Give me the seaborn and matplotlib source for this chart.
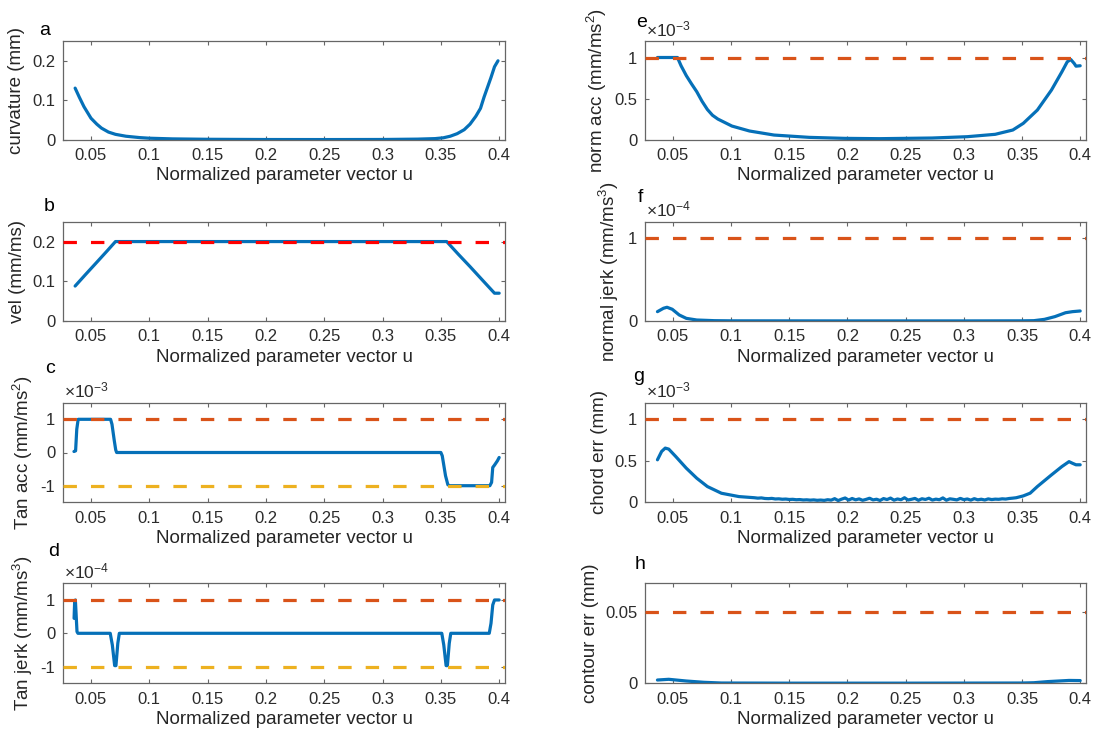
import numpy as np
import matplotlib
matplotlib.use("Agg")
import matplotlib.pyplot as plt
import matplotlib.transforms as mtransforms
from matplotlib.ticker import FuncFormatter
import seaborn as sns

# ---------------------------------------------------------------- data
# (a) curvature (mm)
u_curv = [0.0364, 0.040, 0.044, 0.050, 0.055, 0.059, 0.065, 0.071, 0.080, 0.092,
          0.100, 0.120, 0.150, 0.200, 0.250, 0.300, 0.330, 0.345, 0.352, 0.358,
          0.364, 0.370, 0.375, 0.380, 0.384, 0.387, 0.390, 0.393, 0.396, 0.399]
curvature = [0.131, 0.108, 0.084, 0.055, 0.040, 0.030, 0.020, 0.0143, 0.0095, 0.006,
             0.0045, 0.0028, 0.0018, 0.0012, 0.0011, 0.0013, 0.0022, 0.0035, 0.0055, 0.0095,
             0.016, 0.026, 0.040, 0.060, 0.080, 0.108, 0.133, 0.158, 0.185, 0.200]

# (b) feedrate (mm/ms) and its limit
u_vel = [0.0364, 0.045, 0.055, 0.064, 0.071, 0.355, 0.365, 0.375, 0.385, 0.396, 0.400]
vel = [0.088, 0.116, 0.148, 0.177, 0.200, 0.200, 0.168, 0.137, 0.105, 0.070, 0.070]
vel_max = 0.2

# (c) tangential acceleration, in units of 1e-3 mm/ms^2
u_tacc = [0.0354, 0.0368, 0.0378, 0.0390, 0.0668, 0.0680, 0.0700, 0.0712, 0.0720,
          0.3500, 0.3512, 0.3540, 0.3560, 0.3575, 0.3920, 0.3935, 0.3945, 0.3960,
          0.3985, 0.4000]
tan_acc = [0.03, 0.05, 0.70, 1.00, 1.00, 0.85, 0.35, 0.08, 0.00,
           0.00, -0.10, -0.70, -0.97, -1.00, -1.00, -0.90, -0.45, -0.38,
           -0.25, -0.15]
tan_acc_lim = [1.0, -1.0]

# (d) tangential jerk, in units of 1e-4 mm/ms^3
u_tjerk = [0.0355, 0.0360, 0.0366, 0.0372, 0.0380, 0.0388,
           0.0665, 0.0683, 0.0703, 0.0714, 0.0730, 0.0743,
           0.3508, 0.3525, 0.3545, 0.3556, 0.3572, 0.3585,
           0.3915, 0.3930, 0.3945, 0.3960, 0.4000]
tan_jerk = [0.45, 0.95, 1.00, 0.60, 0.05, 0.00,
            0.00, -0.35, -0.97, -0.97, -0.30, 0.00,
            0.00, -0.35, -0.97, -0.97, -0.30, 0.00,
            0.00, 0.30, 0.85, 1.00, 1.00]
tan_jerk_lim = [1.0, -1.0]

# (e) normal acceleration, in units of 1e-3 mm/ms^2
u_nacc = [0.0367, 0.0450, 0.0539, 0.0570, 0.0615, 0.0660, 0.0705, 0.0750, 0.0796,
          0.0840, 0.0886, 0.1007, 0.1158, 0.1369, 0.1671, 0.1973, 0.2274, 0.2727,
          0.3029, 0.3270, 0.3421, 0.3511, 0.3632, 0.3753, 0.3843, 0.3889, 0.3919,
          0.3949, 0.3964, 0.4000]
norm_acc = [1.0, 1.0, 1.0, 0.90, 0.78, 0.68, 0.585, 0.47, 0.37,
            0.30, 0.254, 0.169, 0.109, 0.060, 0.032, 0.020, 0.016, 0.024,
            0.040, 0.069, 0.121, 0.202, 0.363, 0.605, 0.827, 0.948, 0.976,
            0.927, 0.895, 0.900]
norm_acc_lim = 1.0

# (f) normal jerk, in units of 1e-4 mm/ms^3
u_njerk = [0.0367, 0.0419, 0.0449, 0.0494, 0.0554, 0.0615, 0.0705, 0.0856, 0.100,
           0.200, 0.300, 0.350, 0.3602, 0.3693, 0.3783, 0.3874, 0.3934, 0.4000]
norm_jerk = [0.113, 0.154, 0.166, 0.142, 0.073, 0.032, 0.012, 0.004, 0.002,
             0.001, 0.001, 0.002, 0.004, 0.020, 0.053, 0.100, 0.113, 0.121]
norm_jerk_lim = 1.0

# (g) chord error, in units of 1e-3 mm
u_chord_head = [0.0367, 0.0403, 0.0434, 0.0464, 0.0524, 0.0615, 0.0705, 0.0796,
                0.0917, 0.1067]
chord_head = [0.512, 0.613, 0.653, 0.641, 0.552, 0.411, 0.290, 0.190, 0.109, 0.069]
# evenly sampled, noisy middle stretch (u = 0.120 ... 0.345)
chord_mid = [0.055, 0.050, 0.053, 0.046, 0.044, 0.047, 0.040, 0.042, 0.037, 0.039,
             0.034, 0.036, 0.031, 0.033, 0.028, 0.030, 0.026, 0.029, 0.024, 0.027,
             0.023, 0.031, 0.026, 0.044, 0.021, 0.038, 0.052, 0.027, 0.046, 0.030,
             0.041, 0.024, 0.035, 0.049, 0.029, 0.037, 0.022, 0.045, 0.033, 0.051,
             0.026, 0.040, 0.031, 0.055, 0.028, 0.036, 0.047, 0.024, 0.043, 0.034,
             0.049, 0.027, 0.038, 0.031, 0.053, 0.025, 0.042, 0.036, 0.029, 0.047,
             0.032, 0.040, 0.026, 0.044, 0.030, 0.037, 0.028, 0.041, 0.033, 0.038,
             0.036, 0.042, 0.039, 0.046, 0.050, 0.055]
u_chord_mid = np.linspace(0.120, 0.345, len(chord_mid))
u_chord_tail = [0.3511, 0.3570, 0.3632, 0.3753, 0.3843, 0.3904, 0.3934, 0.3964, 0.4000]
chord_tail = [0.077, 0.110, 0.190, 0.330, 0.431, 0.490, 0.470, 0.452, 0.452]
chord_lim = 1.0

# (h) contour error (mm)
u_cont = [0.0367, 0.0464, 0.0615, 0.0766, 0.0917, 0.150, 0.250, 0.350, 0.3602,
          0.3723, 0.3904, 0.4000]
contour = [0.0023, 0.0028, 0.0016, 0.0007, 0.0002, 0.0001, 0.0001, 0.0002, 0.0004,
           0.0012, 0.0020, 0.0019]
contour_lim = 0.05

u_ticks = [0.05, 0.1, 0.15, 0.2, 0.25, 0.3, 0.35, 0.4]
x_label = "Normalized parameter vector u"

# ---------------------------------------------------------------- style
sns.set_theme(style="ticks")
plt.rcParams.update({
    "font.family": ["Liberation Sans", "DejaVu Sans"],
    "mathtext.fontset": "custom",
    "mathtext.rm": "Liberation Sans",
    "mathtext.it": "Liberation Sans:italic",
    "mathtext.bf": "Liberation Sans:bold",
    "axes.edgecolor": "#666666",
    "axes.linewidth": 0.9,
    "axes.labelcolor": "#262626",
    "axes.labelsize": 13.5,
    "xtick.direction": "in",
    "ytick.direction": "in",
    "xtick.top": True,
    "ytick.right": True,
    "xtick.major.size": 3.2,
    "ytick.major.size": 3.2,
    "xtick.major.width": 0.8,
    "ytick.major.width": 0.8,
    "xtick.color": "#666666",
    "ytick.color": "#666666",
    "xtick.labelcolor": "#2b2b2b",
    "ytick.labelcolor": "#2b2b2b",
    "xtick.labelsize": 12,
    "ytick.labelsize": 12,
    "xtick.major.pad": 6,
    "ytick.major.pad": 5.5,
})

BLUE = "#0570B8"
ORANGE = "#D95319"
YELLOW = "#EDB120"
RED = "#FF0000"
LW = 2.3
DASH = (0, (4.2, 4.4))

W, H = 1096, 740
fig = plt.figure(figsize=(W / 100, H / 100), dpi=100)
fmt = FuncFormatter(lambda v, p: f"{v:g}")

col_px = {0: (63, 442), 1: (645, 441)}
row_px = [(41, 140), (221.7, 321), (402.7, 502.3), (583.3, 683.3)]


def make_axes(col, row):
    x0, w = col_px[col]
    top, bot = row_px[row]
    return fig.add_axes([x0 / W, 1 - bot / H, w / W, (bot - top) / H])


def panel(col, row, u, v, ylim, yticks, ylabel, label_x, limits=(), exponent=None):
    ax = make_axes(col, row)
    sns.lineplot(x=u, y=v, ax=ax, color=BLUE, linewidth=LW, estimator=None,
                 sort=False, legend=False, zorder=2)
    for level, colour in limits:
        ax.axhline(level, color=colour, linewidth=LW, linestyle=DASH, zorder=3)
    ax.set_xlim(0.026, 0.405)
    ax.set_ylim(*ylim)
    ax.set_xticks(u_ticks)
    ax.set_yticks(yticks)
    ax.xaxis.set_major_formatter(fmt)
    ax.yaxis.set_major_formatter(fmt)
    ax.set_xlabel(x_label, labelpad=3)
    ax.set_ylabel(ylabel)
    ax.yaxis.set_label_coords(label_x, 0.5)
    for s in ax.spines.values():
        s.set_visible(True)
    if exponent is not None:
        tr = mtransforms.offset_copy(ax.transAxes, fig=fig, x=1, y=5, units="dots")
        ax.text(0, 1, r"$\times\mathregular{10^{%d}}$" % exponent, transform=tr,
                ha="left", va="baseline", fontsize=12.5, color="#2b2b2b")
    return ax


# left column
panel(0, 0, u_curv, curvature, (0, 0.25), [0, 0.1, 0.2], "curvature (mm)", -0.085)
panel(0, 1, u_vel, vel, (0, 0.25), [0, 0.1, 0.2], "vel (mm/ms)", -0.083,
      limits=[(vel_max, RED)])
panel(0, 2, u_tacc, tan_acc, (-1.5, 1.5), [-1, 0, 1], r"Tan acc (mm/ms$^{2}$)", -0.063,
      limits=[(tan_acc_lim[0], ORANGE), (tan_acc_lim[1], YELLOW)], exponent=-3)
panel(0, 3, u_tjerk, tan_jerk, (-1.5, 1.5), [-1, 0, 1], r"Tan jerk (mm/ms$^{3}$)", -0.063,
      limits=[(tan_jerk_lim[0], ORANGE), (tan_jerk_lim[1], YELLOW)], exponent=-4)

# right column
panel(1, 0, u_nacc, norm_acc, (0, 1.2), [0, 0.5, 1], r"norm acc (mm/ms$^{2}$)", -0.081,
      limits=[(norm_acc_lim, ORANGE)], exponent=-3)
panel(1, 1, u_njerk, norm_jerk, (0, 1.2), [0, 1], r"normal jerk (mm/ms$^{3}$)", -0.054,
      limits=[(norm_jerk_lim, ORANGE)], exponent=-4)
u_chord = list(u_chord_head) + list(u_chord_mid) + list(u_chord_tail)
chord = chord_head + chord_mid + chord_tail
panel(1, 2, u_chord, chord, (0, 1.2), [0, 0.5, 1], "chord err (mm)", -0.085,
      limits=[(chord_lim, ORANGE)], exponent=-3)
panel(1, 3, u_cont, contour, (0, 0.07), [0, 0.05], "contour err (mm)", -0.105,
      limits=[(contour_lim, ORANGE)])

# panel letters
letters = [("a", 39, 35), ("b", 44, 210.7), ("c", 45, 373), ("d", 48, 555.7),
           ("e", 636, 26.7), ("f", 638, 201.7), ("g", 633, 381), ("h", 635, 569.3)]
for txt, px, py in letters:
    fig.text(px / W, 1 - py / H, txt, ha="left", va="baseline", fontsize=14,
             color="#000000")

fig.savefig("out.png", dpi=100, facecolor="white")
